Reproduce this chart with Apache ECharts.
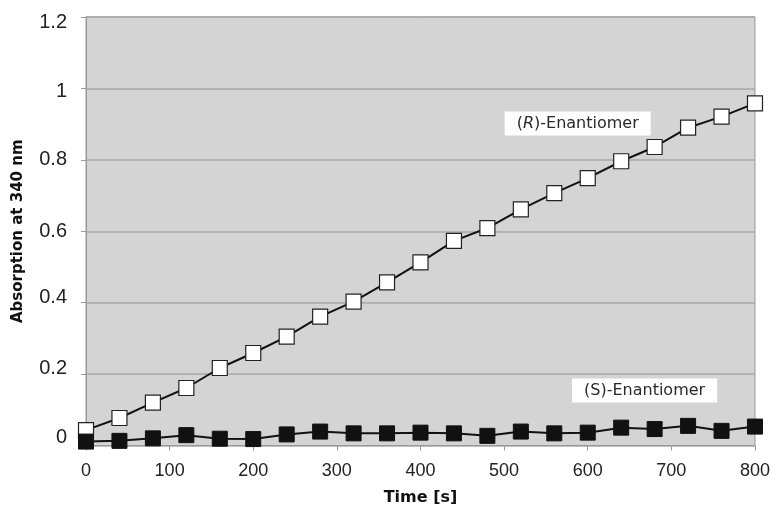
<!DOCTYPE html>
<html>
<head>
<meta charset="utf-8">
<script src="https://cdn.jsdelivr.net/npm/echarts@6/dist/echarts.min.js"></script>
<style>
  html, body { margin: 0; padding: 0; background: #fff; }
  #chart { width: 773px; height: 511px; }
</style>
</head>
<body>
<div id="chart"></div>
<script>
// time points (s)
var times = [0, 40, 80, 120, 160, 200, 240, 280, 320, 360, 400, 440, 480, 520, 560, 600, 640, 680, 720, 760, 800];
// absorption at 340 nm
var rValues = [0.043, 0.077, 0.120, 0.161, 0.217, 0.259, 0.305, 0.361, 0.403, 0.457, 0.513,
               0.573, 0.609, 0.661, 0.707, 0.749, 0.796, 0.836, 0.890, 0.921, 0.958];
var sValues = [0.011, 0.013, 0.020, 0.029, 0.019, 0.018, 0.031, 0.039, 0.034, 0.034, 0.036,
               0.034, 0.027, 0.039, 0.034, 0.036, 0.050, 0.046, 0.055, 0.041, 0.053];
var yTicks = [0, 0.2, 0.4, 0.6, 0.8, 1, 1.2];
// label anchor points in data space [time, absorption]
var rLabelAt = [588, 0.902];
var sLabelAt = [668, 0.154];

// the original tick labels sit a little off their gridlines (px, + = down)
var yLabelShift = [-8, -6, -5, 0, 0, 3, 5];

function pairs(vals) {
    var out = [];
    for (var i = 0; i < times.length; i++) {
        out.push([times[i], vals[i]]);
    }
    return out;
}

var labelFont = '"DejaVu Sans", Verdana, sans-serif';
var tickFont = '"Liberation Sans", Arial, sans-serif';

// rich styles for the shifted y labels
var yRich = {};
for (var k = 0; k < yTicks.length; k++) {
    var d = yLabelShift[k];
    yRich['t' + k] = {
        fontFamily: tickFont,
        fontSize: 20,
        color: '#222',
        padding: d >= 0 ? [2 * d, 0, 0, 0] : [0, 0, -2 * d, 0]
    };
}

// white boxed text placed on the plot
function boxMark(at, text) {
    return {
        symbol: 'rect',
        symbolSize: 1,
        itemStyle: {color: 'rgba(0,0,0,0)'},
        label: {
            show: true,
            position: 'inside',
            formatter: text,
            backgroundColor: '#fff',
            padding: [4, 12, 4, 12],
            fontFamily: labelFont,
            fontSize: 16,
            color: '#2a2a2a',
            rich: {
                i: {fontStyle: 'italic', fontFamily: labelFont, fontSize: 16, color: '#2a2a2a'}
            }
        },
        data: [{coord: at}]
    };
}

var option = {
    animation: false,
    grid: {
        left: 86,
        right: 18,
        top: 17,
        bottom: 65.5,
        show: true,
        backgroundColor: '#d4d4d4',
        borderColor: '#9a9a9a',
        borderWidth: 1
    },
    xAxis: {
        type: 'value',
        min: 0,
        max: 800,
        interval: 100,
        name: 'Time [s]',
        nameLocation: 'middle',
        nameGap: 44,
        nameTextStyle: {
            fontFamily: '"DejaVu Sans", Verdana, sans-serif',
            fontWeight: 'bold',
            fontSize: 16,
            color: '#111'
        },
        axisLine: {lineStyle: {color: '#9a9a9a', width: 1}},
        axisTick: {show: true, length: 5, lineStyle: {color: '#9a9a9a'}},
        axisLabel: {
            margin: 17,
            fontFamily: tickFont,
            fontSize: 18,
            color: '#222'
        },
        splitLine: {show: false}
    },
    yAxis: {
        type: 'value',
        min: 0,
        max: 1.2,
        interval: 0.2,
        name: 'Absorption at 340 nm',
        nameLocation: 'middle',
        nameGap: 60,
        nameTextStyle: {
            fontFamily: '"DejaVu Sans", Verdana, sans-serif',
            fontWeight: 'bold',
            fontSize: 15,
            color: '#111'
        },
        axisLine: {show: true, lineStyle: {color: '#9a9a9a', width: 1}},
        axisTick: {show: true, length: 5, lineStyle: {color: '#9a9a9a'}},
        axisLabel: {
            margin: 19,
            fontFamily: tickFont,
            fontSize: 20,
            color: '#222',
            rich: yRich,
            formatter: function (v) {
                for (var i = 0; i < yTicks.length; i++) {
                    if (Math.abs(yTicks[i] - v) < 1e-9) {
                        return '{t' + i + '|' + yTicks[i] + '}';
                    }
                }
                return String(v);
            }
        },
        splitLine: {show: true, lineStyle: {color: '#a9a9a9', width: 1.5}}
    },
    series: [{
        name: '(R)-Enantiomer',
        type: 'line',
        data: pairs(rValues),
        symbol: 'rect',
        symbolSize: 15,
        lineStyle: {color: '#111', width: 2},
        itemStyle: {color: '#fff', borderColor: '#222', borderWidth: 1.2},
        z: 3,
        markPoint: boxMark(rLabelAt, '({i|R})-Enantiomer')
    }, {
        name: '(S)-Enantiomer',
        type: 'line',
        data: pairs(sValues),
        symbol: 'rect',
        symbolSize: 15,
        lineStyle: {color: '#111', width: 2},
        itemStyle: {color: '#111', borderColor: '#111', borderWidth: 1},
        z: 3,
        markPoint: boxMark(sLabelAt, '(S)-Enantiomer')
    }]
};

var chart = echarts.init(document.getElementById('chart'));
chart.setOption(option);
</script>
</body>
</html>
